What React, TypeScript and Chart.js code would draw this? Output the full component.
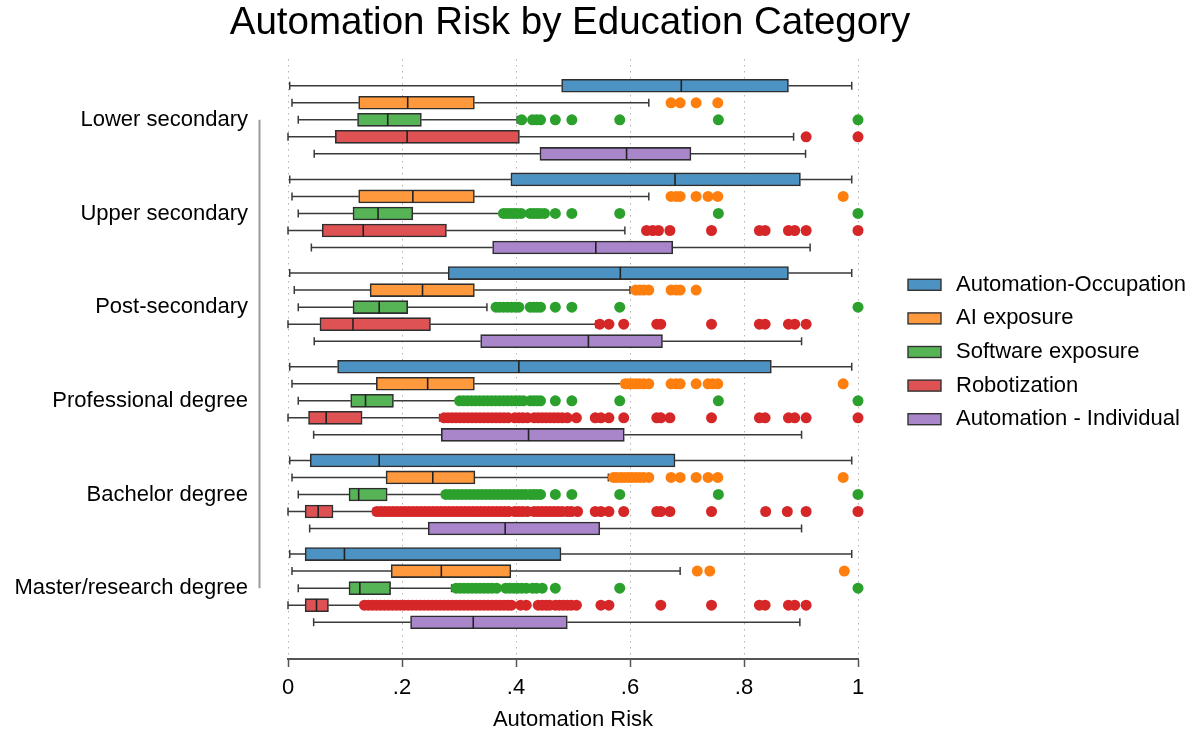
import React, { useEffect, useRef } from "react";
import { Chart, registerables } from "chart.js";

Chart.register(...registerables);

const FONT = "'Liberation Sans', Arial, Helvetica, sans-serif";

const chartTitle = "Automation Risk by Education Category";

const educationLevels = [
  "Lower secondary",
  "Upper secondary",
  "Post-secondary",
  "Professional degree",
  "Bachelor degree",
  "Master/research degree",
];

const seriesNames = [
  "Automation-Occupation",
  "AI exposure",
  "Software exposure",
  "Robotization",
  "Automation - Individual",
];

// box fills (light) and outlier dots (full strength)
const boxFills = ["#4c92c3", "#ff993e", "#56b356", "#de5253", "#a985ca"];
const dotColors = ["#1f77b4", "#ff7f0e", "#2ca02c", "#d62728", "#9467bd"];

const xTickValues = [0, 0.2, 0.4, 0.6, 0.8, 1];
const xTickLabels = ["0", ".2", ".4", ".6", ".8", "1"];

// [lower whisker, q1, median, q3, upper whisker] per education level
const occupationStats = [
  [0.003, 0.48, 0.69, 0.878, 0.989],
  [0.003, 0.391, 0.679, 0.899, 0.989],
  [0.003, 0.281, 0.583, 0.878, 0.989],
  [0.003, 0.087, 0.405, 0.848, 0.989],
  [0.003, 0.039, 0.16, 0.679, 0.989],
  [0.003, 0.03, 0.099, 0.479, 0.989],
];
const aiStats = [
  [0.007, 0.124, 0.21, 0.327, 0.633],
  [0.007, 0.124, 0.219, 0.327, 0.633],
  [0.011, 0.144, 0.236, 0.327, 0.6],
  [0.007, 0.155, 0.245, 0.327, 0.586],
  [0.007, 0.172, 0.254, 0.328, 0.562],
  [0.007, 0.181, 0.269, 0.391, 0.688],
];
const softwareStats = [
  [0.018, 0.122, 0.175, 0.234, 0.402],
  [0.018, 0.114, 0.158, 0.219, 0.375],
  [0.018, 0.114, 0.16, 0.21, 0.349],
  [0.018, 0.11, 0.136, 0.185, 0.298],
  [0.018, 0.107, 0.124, 0.174, 0.274],
  [0.018, 0.107, 0.126, 0.18, 0.287],
];
const robotStats = [
  [0.0, 0.083, 0.209, 0.406, 0.887],
  [0.0, 0.06, 0.132, 0.278, 0.591],
  [0.0, 0.056, 0.114, 0.25, 0.54],
  [0.0, 0.036, 0.067, 0.13, 0.266],
  [0.0, 0.03, 0.053, 0.079, 0.15],
  [0.0, 0.03, 0.05, 0.071, 0.13],
];
const individualStats = [
  [0.046, 0.442, 0.594, 0.707, 0.908],
  [0.041, 0.359, 0.54, 0.675, 0.916],
  [0.046, 0.338, 0.527, 0.657, 0.901],
  [0.045, 0.269, 0.422, 0.59, 0.901],
  [0.038, 0.246, 0.381, 0.547, 0.901],
  [0.045, 0.215, 0.325, 0.49, 0.898],
];

// outside values per education level
const occupationOutliers: number[][] = [[], [], [], [], [], []];
const aiOutliers = [
  [0.672, 0.688, 0.716, 0.754],
  [0.672, 0.681, 0.688, 0.716, 0.737, 0.754, 0.974],
  [0.61, 0.617, 0.624, 0.633, 0.672, 0.681, 0.688, 0.716],
  [0.592, 0.598, 0.604, 0.611, 0.617, 0.624, 0.633, 0.672, 0.681, 0.688, 0.716, 0.737, 0.745, 0.754, 0.974],
  [0.571, 0.577, 0.584, 0.59, 0.597, 0.603, 0.61, 0.617, 0.624, 0.633, 0.672, 0.688, 0.716, 0.737, 0.754, 0.974],
  [0.718, 0.74, 0.976],
];
const softwareOutliers = [
  [0.41, 0.429, 0.436, 0.443, 0.469, 0.498, 0.582, 0.755, 1.0],
  [0.378, 0.384, 0.39, 0.396, 0.402, 0.409, 0.425, 0.431, 0.437, 0.443, 0.45, 0.469, 0.498, 0.582, 0.755, 1.0],
  [0.365, 0.371, 0.378, 0.385, 0.392, 0.399, 0.405, 0.425, 0.431, 0.437, 0.443, 0.469, 0.498, 0.582, 1.0],
  [0.301, 0.308, 0.315, 0.322, 0.329, 0.336, 0.343, 0.35, 0.357, 0.364, 0.371, 0.378, 0.385, 0.392, 0.399, 0.406, 0.413, 0.425, 0.431, 0.437, 0.443, 0.469, 0.498, 0.582, 0.755, 1.0],
  [0.277, 0.284, 0.291, 0.298, 0.305, 0.312, 0.319, 0.326, 0.333, 0.34, 0.347, 0.354, 0.361, 0.368, 0.375, 0.382, 0.389, 0.396, 0.403, 0.41, 0.417, 0.425, 0.431, 0.437, 0.443, 0.469, 0.498, 0.582, 0.755, 1.0],
  [0.295, 0.302, 0.309, 0.316, 0.323, 0.33, 0.337, 0.344, 0.351, 0.358, 0.366, 0.382, 0.389, 0.396, 0.403, 0.41, 0.418, 0.429, 0.436, 0.446, 0.469, 0.582, 1.0],
];
const robotOutliers = [
  [0.909, 1.0],
  [0.629, 0.64, 0.65, 0.67, 0.743, 0.827, 0.837, 0.878, 0.889, 0.909, 1.0],
  [0.547, 0.563, 0.589, 0.647, 0.654, 0.743, 0.827, 0.837, 0.878, 0.889, 0.909],
  [0.274, 0.281, 0.288, 0.295, 0.302, 0.309, 0.316, 0.323, 0.33, 0.337, 0.344, 0.351, 0.358, 0.365, 0.372, 0.379, 0.386, 0.398, 0.405, 0.412, 0.42, 0.432, 0.439, 0.446, 0.453, 0.46, 0.467, 0.474, 0.481, 0.49, 0.506, 0.539, 0.549, 0.563, 0.589, 0.647, 0.654, 0.67, 0.743, 0.827, 0.837, 0.878, 0.889, 0.909, 1.0],
  [0.156, 0.163, 0.17, 0.177, 0.184, 0.191, 0.198, 0.205, 0.212, 0.219, 0.226, 0.233, 0.24, 0.247, 0.254, 0.261, 0.268, 0.275, 0.282, 0.289, 0.296, 0.303, 0.31, 0.317, 0.324, 0.331, 0.338, 0.345, 0.352, 0.359, 0.366, 0.373, 0.38, 0.387, 0.398, 0.405, 0.412, 0.42, 0.432, 0.439, 0.446, 0.453, 0.46, 0.467, 0.474, 0.481, 0.49, 0.497, 0.508, 0.539, 0.549, 0.563, 0.589, 0.647, 0.654, 0.67, 0.743, 0.838, 0.876, 0.909, 1.0],
  [0.134, 0.141, 0.148, 0.155, 0.162, 0.169, 0.176, 0.183, 0.19, 0.197, 0.204, 0.211, 0.218, 0.225, 0.232, 0.239, 0.246, 0.253, 0.26, 0.267, 0.274, 0.281, 0.288, 0.295, 0.302, 0.309, 0.316, 0.323, 0.33, 0.337, 0.344, 0.351, 0.358, 0.365, 0.372, 0.379, 0.386, 0.392, 0.408, 0.418, 0.439, 0.446, 0.453, 0.459, 0.469, 0.476, 0.483, 0.49, 0.497, 0.506, 0.549, 0.563, 0.654, 0.743, 0.827, 0.837, 0.878, 0.889, 0.909],
];
const individualOutliers: number[][] = [[], [], [], [], [], []];

const allStats = [occupationStats, aiStats, softwareStats, robotStats, individualStats];
const allOutliers = [occupationOutliers, aiOutliers, softwareOutliers, robotOutliers, individualOutliers];

// each education level occupies five rows, with a gap before the next level
const GROUP_STEP = 5.5;
const rowValue = (group: number, series: number) => group * GROUP_STEP + series;

// whiskers behind the boxes, medians on top of them
const boxWhiskerPlugin = {
  id: "boxWhiskers",
  beforeDatasetsDraw(chart: any) {
    const { ctx, scales } = chart;
    const x = scales.x;
    const y = scales.y;
    chart.data.datasets.forEach((ds: any) => {
      if (!ds.boxStats) return;
      ds.boxStats.forEach((st: number[], g: number) => {
        const py = y.getPixelForValue(rowValue(g, ds.seriesIndex));
        const [lo, q1, , q3, hi] = st;
        const xlo = x.getPixelForValue(lo);
        const xhi = x.getPixelForValue(hi);
        ctx.save();
        ctx.strokeStyle = "#3a3a3a";
        ctx.lineWidth = 1.5;
        ctx.beginPath();
        ctx.moveTo(xlo, py);
        ctx.lineTo(x.getPixelForValue(q1), py);
        ctx.moveTo(x.getPixelForValue(q3), py);
        ctx.lineTo(xhi, py);
        ctx.moveTo(xlo, py - 4);
        ctx.lineTo(xlo, py + 4);
        ctx.moveTo(xhi, py - 4);
        ctx.lineTo(xhi, py + 4);
        ctx.stroke();
        ctx.restore();
      });
    });
  },
  afterDatasetsDraw(chart: any) {
    const { ctx, scales } = chart;
    const x = scales.x;
    const y = scales.y;
    chart.data.datasets.forEach((ds: any) => {
      if (!ds.boxStats) return;
      ds.boxStats.forEach((st: number[], g: number) => {
        const py = y.getPixelForValue(rowValue(g, ds.seriesIndex));
        const px = x.getPixelForValue(st[2]);
        ctx.save();
        ctx.strokeStyle = "#222";
        ctx.lineWidth = 1.6;
        ctx.beginPath();
        ctx.moveTo(px, py - 6.2);
        ctx.lineTo(px, py + 6.2);
        ctx.stroke();
        ctx.restore();
      });
    });
  },
};

// title centred a little left of the plot centre, the category axis line and the legend
const decorationsPlugin = {
  id: "decorations",
  afterDraw(chart: any) {
    const { ctx, chartArea, scales } = chart;
    const y = scales.y;

    // title
    ctx.save();
    ctx.font = `38.5px ${FONT}`;
    ctx.fillStyle = "#000";
    ctx.textAlign = "center";
    ctx.textBaseline = "middle";
    ctx.fillText(chartTitle, (chartArea.left + chartArea.right) / 2 - 3, 23);
    ctx.restore();

    // category axis line, spanning the first to the last label
    const top = y.getPixelForValue(rowValue(0, 2));
    const bottom = y.getPixelForValue(rowValue(educationLevels.length - 1, 2));
    const lx = chartArea.left - 28.5;
    ctx.save();
    ctx.strokeStyle = "#9a9a9a";
    ctx.lineWidth = 2;
    ctx.beginPath();
    ctx.moveTo(lx, top);
    ctx.lineTo(lx, bottom);
    ctx.stroke();
    ctx.restore();

    // legend to the right of the plot
    const items = chart.data.datasets.filter((d: any) => d.boxStats);
    const step = 33.6;
    const midY = (chartArea.top + chartArea.bottom) / 2 - 7;
    const startY = midY - (step * (items.length - 1)) / 2;
    const bx = chartArea.right + 50;
    ctx.save();
    ctx.font = `22px ${FONT}`;
    ctx.textBaseline = "middle";
    ctx.textAlign = "left";
    items.forEach((ds: any, i: number) => {
      const cy = startY + i * step;
      ctx.fillStyle = ds.backgroundColor;
      ctx.fillRect(bx, cy - 5.5, 33, 11);
      ctx.strokeStyle = "#333";
      ctx.lineWidth = 1.4;
      ctx.strokeRect(bx, cy - 5.5, 33, 11);
      ctx.fillStyle = "#000";
      ctx.fillText(ds.label, bx + 48, cy);
    });
    ctx.restore();
  },
};

export default function App() {
  const canvasRef = useRef<HTMLCanvasElement>(null);

  useEffect(() => {
    const boxDatasets = seriesNames.map((name, s) => ({
      type: "bar" as const,
      label: name,
      indexAxis: "y" as const,
      seriesIndex: s,
      boxStats: allStats[s],
      data: allStats[s].map((st, g) => ({ x: [st[1], st[3]], y: rowValue(g, s) })),
      backgroundColor: boxFills[s],
      borderColor: "#2e2e2e",
      borderWidth: 1.6,
      borderSkipped: false,
      barThickness: 13,
      grouped: false,
      order: 2,
    }));

    const outlierDatasets = seriesNames.map((name, s) => ({
      type: "scatter" as const,
      label: name + " outliers",
      data: allOutliers[s].flatMap((vals, g) => vals.map((v) => ({ x: v, y: rowValue(g, s) }))),
      backgroundColor: dotColors[s],
      borderWidth: 0,
      pointRadius: 5.5,
      pointHoverRadius: 5.5,
      clip: false,
      order: 1,
    }));

    const chart = new Chart(canvasRef.current as HTMLCanvasElement, {
      type: "bar",
      data: { datasets: [...boxDatasets, ...outlierDatasets] as any },
      options: {
        indexAxis: "y",
        responsive: false,
        animation: false,
        events: [],
        devicePixelRatio: 1,
        layout: { padding: { left: 0, right: 336, top: 59, bottom: 0 } },
        plugins: {
          legend: { display: false },
          tooltip: { enabled: false },
          title: { display: false },
        },
        scales: {
          x: {
            type: "linear",
            position: "bottom",
            min: 0,
            max: 1,
            offset: false,
            afterBuildTicks: (scale: any) => {
              scale.ticks = xTickValues.map((v) => ({ value: v }));
            },
            afterFit: (scale: any) => {
              scale.height = 77;
            },
            ticks: {
              autoSkip: false,
              maxRotation: 0,
              padding: 8,
              color: "#000",
              font: { family: FONT, size: 22 },
              callback: (_v: any, i: number) => xTickLabels[i],
            },
            grid: {
              offset: false,
              color: "#b3b3b3",
              lineWidth: 1,
              drawTicks: true,
              tickLength: 8,
              tickColor: "#555",
              tickWidth: 1.5,
            },
            border: { display: true, color: "#555", width: 2, dash: [1.5, 4.5] },
            title: {
              display: true,
              text: "Automation Risk",
              color: "#000",
              font: { family: FONT, size: 22 },
              padding: { top: 0, bottom: 3 },
            },
          },
          y: {
            type: "linear",
            position: "left",
            reverse: true,
            offset: false,
            min: -1.57,
            max: 33.66,
            afterBuildTicks: (scale: any) => {
              scale.ticks = educationLevels.map((_, g) => ({ value: rowValue(g, 2) }));
            },
            afterFit: (scale: any) => {
              scale.width = 288;
            },
            ticks: {
              autoSkip: false,
              padding: 40,
              color: "#000",
              font: { family: FONT, size: 22 },
              callback: (_v: any, i: number) => educationLevels[i],
            },
            grid: { display: false, drawTicks: false, offset: false },
            border: { display: false },
          },
        },
      } as any,
      plugins: [boxWhiskerPlugin, decorationsPlugin],
    });

    return () => chart.destroy();
  }, []);

  return (
    <div style={{ position: "fixed", left: 0, top: 0, width: 1194, height: 736, background: "#fff" }}>
      <canvas ref={canvasRef} width={1194} height={736} style={{ display: "block" }} />
    </div>
  );
}
